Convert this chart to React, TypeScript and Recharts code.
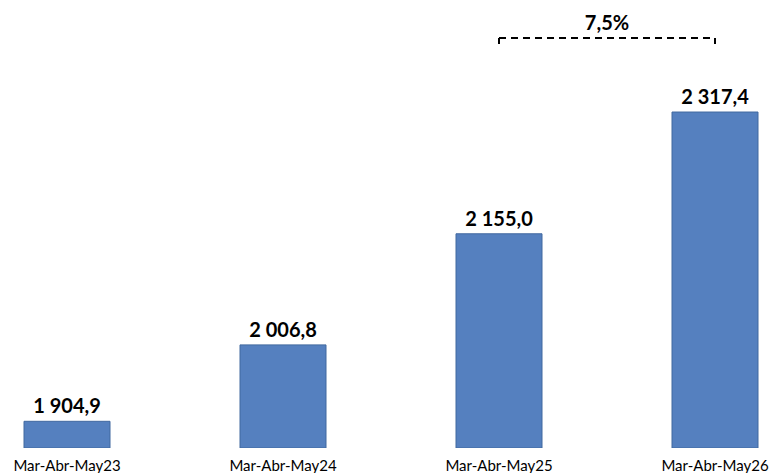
import React from "react";
import { BarChart, Bar, XAxis, YAxis, LabelList, ReferenceLine, Label } from "recharts";

const categories = ["Mar-Abr-May23", "Mar-Abr-May24", "Mar-Abr-May25", "Mar-Abr-May26"];
const values = [1904.9, 2006.8, 2155.0, 2317.4];
const growthLabel = "7,5%";
const growthFrom = "Mar-Abr-May25";
const growthTo = "Mar-Abr-May26";
const bracketY = 2416.0;
const bracketTickY = 2408.0;
const yDomain: [number, number] = [1869.3, 2466.8];

const data = categories.map((c, i) => ({ name: c, value: values[i] }));

const fmt = (v: number) => {
  const s = v.toFixed(1);
  const [intPart, dec] = s.split(".");
  const withSpaces = intPart.replace(/\B(?=(\d{3})+(?!\d))/g, " ");
  return `${withSpaces},${dec}`;
};

const FONT = "Lato, 'Noto Sans', sans-serif";

export default function App() {
  return (
    <div style={{ position: "absolute", left: 0, top: 0, width: 774, height: 473, overflow: "hidden", background: "#fff" }}>
      <div style={{ position: "absolute", left: -41, top: 0 }}>
        <BarChart width={864} height={473} data={data} margin={{ top: 0, right: 0, bottom: 0, left: 0 }}>
          <XAxis
            dataKey="name"
            axisLine={false}
            tickLine={false}
            height={25}
            tickMargin={6}
            interval={0}
            tick={{ fill: "#000", fontSize: 15, fontFamily: FONT }}
          />
          <YAxis hide domain={yDomain} allowDataOverflow />
          <Bar dataKey="value" fill="#5580BF" stroke="#41689F" strokeWidth={1} barSize={86} isAnimationActive={false}>
            <LabelList
              dataKey="value"
              position="top"
              offset={8}
              formatter={(v: any) => fmt(Number(v))}
              style={{ fill: "#000", fontSize: 20, fontWeight: 700, fontFamily: FONT }}
            />
          </Bar>
          <ReferenceLine
            segment={[{ x: growthFrom, y: bracketY }, { x: growthTo, y: bracketY }]}
            stroke="#000"
            strokeWidth={2}
            strokeDasharray="7 5"
            ifOverflow="visible"
          >
            <Label value={growthLabel} position="top" offset={8} style={{ fill: "#000", fontSize: 20, fontWeight: 700, fontFamily: FONT }} />
          </ReferenceLine>
          <ReferenceLine
            segment={[{ x: growthFrom, y: bracketY }, { x: growthFrom, y: bracketTickY }]}
            stroke="#000"
            strokeWidth={2}
            ifOverflow="visible"
          />
          <ReferenceLine
            segment={[{ x: growthTo, y: bracketY }, { x: growthTo, y: bracketTickY }]}
            stroke="#000"
            strokeWidth={2}
            ifOverflow="visible"
          />
        </BarChart>
      </div>
    </div>
  );
}
